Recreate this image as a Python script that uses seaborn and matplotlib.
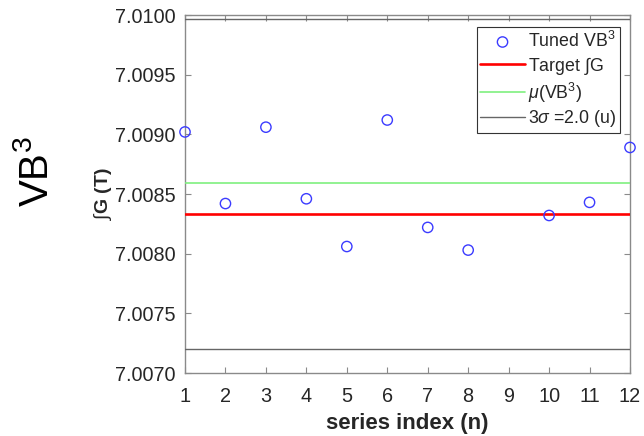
import numpy as np
import pandas as pd
import matplotlib
matplotlib.use("Agg")
import matplotlib.pyplot as plt
import seaborn as sns

# ---- data ----
series_index = [1, 2, 3, 4, 5, 6, 7, 8, 10, 11, 12]
tuned_vb3 = [7.00902, 7.00842, 7.00906, 7.00846, 7.00806, 7.00912,
             7.00822, 7.00803, 7.00832, 7.00843, 7.00889]
target_int_g = 7.00833
mean_vb3 = 7.00859
three_sigma_lo = 7.00720
three_sigma_hi = 7.00997
y_ticks = [7.0070, 7.0075, 7.0080, 7.0085, 7.0090, 7.0095, 7.0100]
x_ticks = list(range(1, 13))

sns.set_style("white")
plt.rcParams['font.family'] = ['Liberation Sans', 'DejaVu Sans']
plt.rcParams['mathtext.fontset'] = 'custom'
plt.rcParams['mathtext.rm'] = 'Liberation Sans'
plt.rcParams['mathtext.it'] = 'Liberation Sans:italic'
plt.rcParams['mathtext.bf'] = 'Liberation Sans:bold'

df = pd.DataFrame({"n": series_index, "val": tuned_vb3})

fig = plt.figure(figsize=(6.44, 4.36), dpi=100)
ax = fig.add_axes([185/644, 1-373/436, (630-185)/644, (373-15)/436])

axis_col = '#8a8a8a'
text_col = '#262626'

sns.scatterplot(data=df, x="n", y="val", ax=ax, marker='o', s=55,
                facecolors='none', edgecolor='#3b3bff', linewidth=1.0,
                label='Tuned VB$^3$', zorder=5, clip_on=False)
ax.axhline(target_int_g, color='#ff0000', lw=1.9, label='Target $\\int$G', zorder=3)
ax.axhline(mean_vb3, color='#7ff07f', lw=1.2, label='$\\mu$(VB$^3$)', zorder=3)
ax.axhline(three_sigma_lo, color='#666666', lw=1.0, label='3$\\sigma$ =2.0 (u)', zorder=3)
ax.axhline(three_sigma_hi, color='#666666', lw=1.0, zorder=3)

ax.set_xlim(1, 12)
ax.set_ylim(7.0070, 7.0100)
ax.set_xticks(x_ticks)
ax.set_xticklabels([str(t) for t in x_ticks])
ax.set_yticks(y_ticks)
ax.set_yticklabels([f"{t:.4f}" for t in y_ticks])

for sp in ax.spines.values():
    sp.set_visible(True)
    sp.set_color(axis_col)
    sp.set_linewidth(1.0)
ax.tick_params(axis='both', direction='in', length=4, width=0.8, color=axis_col,
               labelsize=14.3, labelcolor=text_col, top=True, right=True,
               left=True, bottom=True)
ax.tick_params(axis='x', pad=10)
ax.tick_params(axis='y', pad=6.5)

ax.set_xlabel('series index (n)', fontsize=16, fontweight='bold', color=text_col, labelpad=5)
ax.set_ylabel('$\\int$G (T)', fontsize=14, fontweight='bold', color=text_col, labelpad=1)

fig.text(37/644, 1-172/436, 'VB$^3$', rotation=90, fontsize=29, color='black',
         ha='center', va='center')

leg = ax.legend(loc='upper right', bbox_to_anchor=(620/644, 1-27/436),
                bbox_transform=fig.transFigure, borderaxespad=0,
                fancybox=False, framealpha=1, edgecolor='#333333',
                fontsize=12.8, handlelength=2.5, handletextpad=0.2,
                labelspacing=0.22, borderpad=0.2)
leg.get_frame().set_linewidth(0.8)
for t in leg.get_texts():
    t.set_color(text_col)

fig.savefig('out.png', dpi=100)
